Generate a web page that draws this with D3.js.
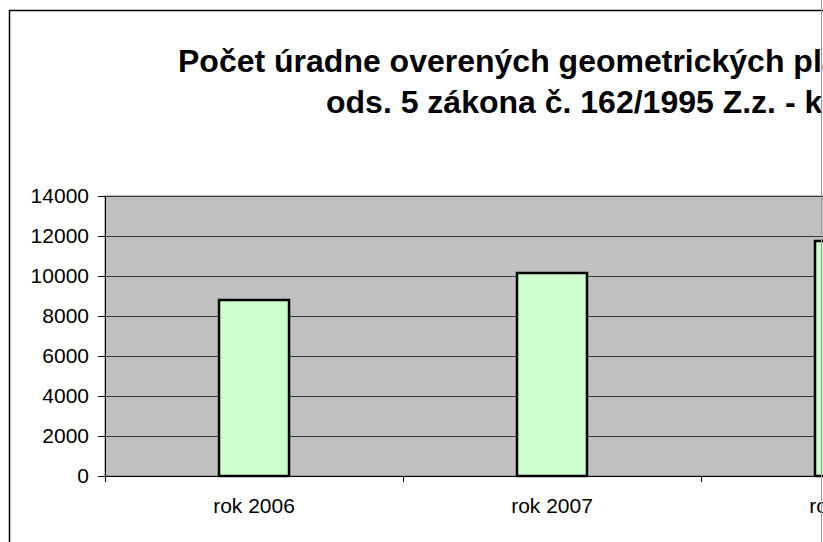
<!DOCTYPE html>
<html>
<head>
<meta charset="utf-8">
<script src="https://cdn.jsdelivr.net/npm/d3@7"></script>
<style>
  body { margin: 0; background: #fff; }
  svg { display: block; font-family: "Liberation Sans", Arial, sans-serif; }
</style>
</head>
<body>
<svg id="chart"></svg>
<script>
const categories = ['rok 2006', 'rok 2007', 'rok 2008'];
const values = [8800, 10150, 11750];
const yTicks = [0, 2000, 4000, 6000, 8000, 10000, 12000, 14000];
const titleLines = [
  'Počet úradne overených geometrických plánov podľa § 9',
  'ods. 5 zákona č. 162/1995 Z.z. - katastrálny zákon',
];

const width = 823;
const height = 542;
const plot = { left: 105, top: 196, width: 894, height: 280 };

const svg = d3.select('#chart')
  .attr('width', width)
  .attr('height', height);

// chart frame (cut off on the right and bottom like the source)
svg.append('rect')
  .attr('x', 9.5)
  .attr('y', 10.5)
  .attr('width', 1100)
  .attr('height', 600)
  .attr('fill', '#fff')
  .attr('stroke', '#000')
  .attr('stroke-width', 1.5);

// title
svg.append('text')
  .attr('font-size', 32)
  .attr('font-weight', 'bold')
  .attr('fill', '#000')
  .selectAll('tspan')
  .data(titleLines)
  .enter().append('tspan')
  .attr('x', (d, i) => (i === 0 ? 178 : 326))
  .attr('y', (d, i) => 72 + i * 41)
  .text((d) => d);

const g = svg.append('g')
  .attr('transform', `translate(${plot.left},${plot.top})`);

const x = d3.scaleBand()
  .domain(categories)
  .range([0, plot.width]);

const y = d3.scaleLinear()
  .domain([0, 14000])
  .range([plot.height, 0]);

g.append('rect')
  .attr('width', plot.width)
  .attr('height', plot.height)
  .attr('fill', '#c0c0c0')
  .attr('stroke', '#808080');

// gridlines
g.selectAll('line.grid')
  .data(yTicks.filter((d) => d > 0))
  .enter().append('line')
  .attr('class', 'grid')
  .attr('x1', 0)
  .attr('x2', plot.width)
  .attr('y1', (d) => Math.round(y(d)) + 0.5)
  .attr('y2', (d) => Math.round(y(d)) + 0.5)
  .attr('stroke', '#3a3a3a');

// bars
const barW = 70;
g.selectAll('.bar')
  .data(values)
  .enter().append('rect')
  .attr('class', 'bar')
  .attr('x', (d, i) => x(categories[i]) + (x.bandwidth() - barW) / 2)
  .attr('y', (d) => y(d))
  .attr('width', barW)
  .attr('height', (d) => y(0) - y(d))
  .attr('fill', '#ccffcc')
  .attr('stroke', '#000')
  .attr('stroke-width', 2.5);

// y axis
const yAxis = g.append('g')
  .call(d3.axisLeft(y).tickValues(yTicks).tickSize(7).tickPadding(9).tickFormat(d3.format('d')));
yAxis.select('.domain').attr('stroke', '#000');
yAxis.selectAll('.tick line').attr('stroke', '#000');
yAxis.selectAll('text')
  .attr('font-size', 21)
  .attr('font-family', '"Liberation Sans", Arial, sans-serif')
  .attr('fill', '#000');

// x axis with ticks between categories
const xAxis = g.append('g')
  .attr('transform', `translate(0,${plot.height})`)
  .call(d3.axisBottom(x).tickSize(0).tickPadding(22));
xAxis.select('.domain').attr('stroke', '#000');
xAxis.selectAll('text')
  .attr('font-size', 21)
  .attr('font-family', '"Liberation Sans", Arial, sans-serif')
  .attr('fill', '#000');
xAxis.selectAll('line.sep')
  .data(categories)
  .enter().append('line')
  .attr('class', 'sep')
  .attr('x1', (d) => x(d) + 0.5)
  .attr('x2', (d) => x(d) + 0.5)
  .attr('y1', 0)
  .attr('y2', 6)
  .attr('stroke', '#000');

// page edge line
svg.append('line')
  .attr('x1', 821.5)
  .attr('x2', 821.5)
  .attr('y1', 0)
  .attr('y2', height)
  .attr('stroke', '#9a9a9a');
</script>
</body>
</html>
